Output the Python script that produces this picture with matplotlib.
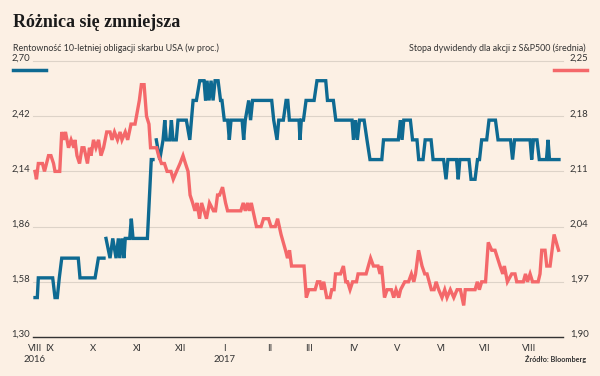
import matplotlib
matplotlib.use("Agg")
import matplotlib.pyplot as plt
from matplotlib.lines import Line2D
import numpy as np
import datetime as dt

# data: days since 2016-08-22
start = dt.date(2016, 8, 22)

yield_days = [0, 1.6, 2.3, 12.3, 13.9, 15.5, 16.9, 18.6, 30.1, 31.3, 41.8, 44.1, 48.0, 48.7,
              49.4, 52.2, 54.1, 56.4, 58.0, 59.0, 60.5, 61.9, 62.8, 65.9, 67.0, 68.2, 78.2,
              80.9, 82.1, 83.2,
              84.4, 86.8, 89.1, 90.3, 91.4, 93.7, 94.9, 96.0, 98.3, 99.5, 105.3, 107.7, 110.0,
              112.3, 114.6, 117.6, 118.7, 119.7, 121.1, 122.5, 123.9, 125.3, 127.4, 129.1,
              130.1, 131.7, 134.1, 135.2, 136.4, 144.1, 145.2, 146.3, 148.7, 150.0, 151.4,
              164.7, 166.1, 168.4, 169.6, 172.8, 174.7, 175.9, 177.0, 183.7, 184.4, 185.3,
              186.8, 188.6, 194.2, 196.2, 202.3, 203.5, 207.6, 209.3, 220.6, 221.6, 223.0,
              224.3, 225.8, 229.0, 231.0, 233.1, 241.3, 242.5, 252.8, 254.2, 255.4, 256.6,
              261.2, 262.7, 265.8, 267.0, 270.0, 271.5, 275.6, 277.0, 284.3, 286.0, 287.3,
              293.3, 294.5, 295.6, 302.0, 303.4, 306.2, 307.9, 309.3, 310.8, 314.3, 315.9,
              320.4, 322.2, 330.9, 332.3, 333.7, 344.5, 345.6, 346.8, 349.3, 350.9, 355.9,
              357.0, 358.0, 364.6]
yield_vals = [1.5, 1.5, 1.6, 1.6, 1.5, 1.5, 1.6, 1.7, 1.7, 1.6, 1.6, 1.7, 1.7, np.nan,
              1.8, 1.7, 1.8, 1.7, 1.8, 1.7, 1.8, 1.7, 1.8, 1.8, 1.9, 1.8, 1.8,
              2.2, 2.2, np.nan,
              2.3, 2.2, 2.3, 2.4, 2.3, 2.3, 2.4, 2.3, 2.3, 2.4, 2.4, 2.3, 2.5,
              2.5, 2.6, 2.6, 2.5, 2.6, 2.5, 2.6, 2.5, 2.6, 2.6, 2.5,
              2.5, 2.4, 2.4, 2.3, 2.4, 2.4, 2.3, 2.4, 2.5, 2.4, 2.5,
              2.5, 2.4, 2.3, 2.4, 2.4, 2.5, 2.5, 2.4, 2.4, 2.3, 2.4,
              2.4, 2.5, 2.5, 2.6, 2.6, 2.5, 2.5, 2.4, 2.4, 2.3, 2.4,
              2.3, 2.4, 2.4, 2.3, 2.2, 2.2, 2.3, 2.3, 2.4, 2.3, 2.4,
              2.4, 2.3, 2.3, 2.2, 2.2, 2.3, 2.3, 2.2, 2.2, 2.1, 2.2,
              2.2, 2.1, 2.2, 2.2, 2.1, 2.1, 2.2, 2.2, 2.3, 2.3, 2.4,
              2.4, 2.3, 2.3, 2.2, 2.3, 2.3, 2.2, 2.3, 2.3, 2.2, 2.2,
              2.3, 2.2, 2.2]

div_days = [0, 1.0, 2.3, 5.2, 6.6, 9.4, 11.1, 12.9, 13.9, 17.2, 18.6, 19.8, 21.2, 23.3, 25.1,
            27.1, 27.8, 29.2, 31.0, 32.7, 34.1, 36.5, 37.9, 39.0, 40.7, 42.4, 44.2, 45.9,
            47.7, 49.9, 52.2, 53.6, 55.3, 57.4, 59.2, 60.5, 62.8, 64.5, 66.8, 69.6, 72.6,
            74.0, 75.9, 77.6, 79.3, 80.4, 84.6, 86.0, 88.0, 90.1, 91.9, 94.6, 96.2, 98.5,
            100.9, 103.0, 104.7, 106.5, 107.9, 109.7, 111.3, 112.7, 114.5, 115.9, 117.6,
            119.3, 121.4, 124.2, 125.6, 127.0, 128.4, 130.5, 132.6, 134.0, 143.2, 144.9,
            146.3, 147.9, 149.1, 150.5, 151.7, 154.1, 157.3, 159.0, 162.5, 164.2, 167.2,
            168.8, 171.2, 174.3, 175.7, 177.1, 178.5, 180.6, 187.2, 188.8, 190.5, 194.9,
            196.5, 198.3, 199.4, 200.9, 203.0, 205.3, 206.5, 208.1, 209.1, 212.6, 214.6,
            216.2, 217.5, 219.2, 221.0, 223.7, 224.8, 230.4, 233.5, 235.5, 238.7, 240.1,
            241.1, 243.2, 245.0, 248.0, 249.6, 251.2, 253.1, 254.4, 257.3, 259.9, 261.9,
            263.6, 264.8, 266.9, 269.3, 271.2, 272.8, 275.8, 277.7, 279.1, 280.9, 283.2,
            285.1, 286.7, 289.0, 291.4, 293.7, 296.0, 298.3, 299.4, 306.2, 307.8, 309.2,
            310.8, 313.5, 315.4, 317.8, 320.1, 323.6, 325.5, 326.6, 328.7, 331.7, 334.0,
            335.2, 339.8, 341.3, 342.7, 344.5, 346.2, 350.1, 351.4, 352.6, 354.9, 356.1,
            358.4, 361.2, 364.3]
div_vals = [2.11, 2.10, 2.12, 2.12, 2.11, 2.13, 2.13, 2.12, 2.11, 2.11, 2.16, 2.15, 2.16, 2.14, 2.15,
            2.14, 2.15, 2.13, 2.12, 2.14, 2.14, 2.12, 2.14, 2.13, 2.15, 2.14, 2.15, 2.13,
            2.14, 2.16, 2.16, 2.15, 2.16, 2.15, 2.16, 2.15, 2.16, 2.15, 2.17, 2.17, 2.20,
            2.22, 2.22, 2.18, 2.17, 2.14, 2.14, 2.13, 2.12, 2.12, 2.11, 2.11, 2.10, 2.11,
            2.12, 2.13, 2.12, 2.11, 2.08, 2.07, 2.06, 2.07, 2.05, 2.07, 2.06,
            2.05, 2.07, 2.06, 2.06, 2.08, 2.08, 2.09, 2.07, 2.06, 2.06, 2.07,
            2.06, 2.07, 2.06, 2.07, 2.06, 2.04, 2.04, 2.05, 2.05, 2.04, 2.04,
            2.05, 2.03, 2.01, 2.00, 2.01, 1.99, 1.99, 1.99, 1.95, 1.96, 1.96,
            1.97, 1.97, 1.96, 1.97, 1.95, 1.95, 1.96, 1.96, 1.98, 1.98, 1.99,
            1.97, 1.97, 1.96, 1.97, 1.97, 1.98, 1.98, 2.00, 1.99, 1.99, 1.98,
            1.99, 1.95, 1.96, 1.96, 1.95, 1.96, 1.95, 1.96, 1.97, 1.97, 1.98,
            1.97, 1.98, 2.01, 1.99, 1.98, 1.98, 1.96, 1.96, 1.97, 1.96, 1.95,
            1.96, 1.95, 1.96, 1.95, 1.96, 1.96, 1.94, 1.96, 1.96, 1.97, 1.96,
            1.97, 1.97, 2.02, 2.01, 2.01, 1.99, 1.98, 1.99, 1.97, 1.98, 1.98,
            1.97, 1.97, 1.98, 1.97, 1.98, 1.97, 1.97, 1.98, 2.01, 2.01, 1.99,
            1.99, 2.03, 2.01]

left_ticks = [1.30, 1.58, 1.86, 2.14, 2.42, 2.70]
right_ticks = [1.90, 1.97, 2.04, 2.11, 2.18, 2.25]
month_dates = [dt.date(2016, 8, 22), dt.date(2016, 9, 1), dt.date(2016, 10, 1), dt.date(2016, 11, 1),
               dt.date(2016, 12, 1), dt.date(2017, 1, 1), dt.date(2017, 2, 1), dt.date(2017, 3, 1),
               dt.date(2017, 4, 1), dt.date(2017, 5, 1), dt.date(2017, 6, 1), dt.date(2017, 7, 1),
               dt.date(2017, 8, 1)]
month_labels = ["VIII\n2016", "IX", "X", "XI", "XII", "I\n2017", "II", "III", "IV", "V", "VI", "VII", "VIII"]

bg = "#fcf0e4"
blue = "#0e6a92"
red = "#f4686a"
txt = "#333333"

plt.rcParams["font.family"] = ["Lato", "DejaVu Sans"]

W, H = 600, 376
fig = plt.figure(figsize=(6, 3.76), dpi=100, facecolor=bg)


def fx(x):
    return x / W


def fy(y):
    return 1 - y / H


ax = fig.add_axes([fx(33), fy(337), fx(563) - fx(33), fy(61) - fy(337)])
ax.set_facecolor(bg)
ax2 = ax.twinx()

ax.plot(yield_days, yield_vals, color=blue, lw=2.4, solid_joinstyle="miter", zorder=3)
ax2.plot(div_days, div_vals, color=red, lw=2.4, solid_joinstyle="miter", zorder=3)

ax.set_xlim(-1.4, 367.4)
ax.set_ylim(1.30, 2.70)
ax2.set_ylim(1.90, 2.25)

ax.set_yticks(left_ticks)
ax.set_yticklabels([f"{v:.2f}".replace(".", ",") for v in left_ticks])
ax2.set_yticks(right_ticks)
ax2.set_yticklabels([f"{v:.2f}".replace(".", ",") for v in right_ticks])

ticks = [(d - start).days for d in month_dates]
ax.set_xticks(ticks)
ax.set_xticklabels(month_labels, fontsize=6.5, color=txt, linespacing=1.3)
for lab in ax.get_xticklabels():
    lab.set_verticalalignment("top")

for a in (ax, ax2):
    for s in a.spines.values():
        s.set_visible(False)
    a.tick_params(length=0, labelsize=6.8, colors=txt)
ax.tick_params(axis="y", pad=2)
ax2.tick_params(axis="y", pad=5)
ax.tick_params(axis="x", pad=5)
for lab in ax.get_yticklabels() + ax2.get_yticklabels():
    lab.set_verticalalignment("baseline")

ax.grid(axis="y", color="#ddd3c8", lw=0.8)
ax.grid(axis="x", visible=False)
for gl in ax.get_ygridlines():
    gl.set_clip_on(False)
ax.axhline(1.30, color="#333333", lw=1.0, zorder=2, clip_on=False)

# titles and labels
fig.text(fx(13), fy(27), "Różnica się zmniejsza", fontsize=13, fontweight="bold",
         family="Liberation Serif", color="#1a1a1a", va="baseline")
fig.text(fx(13), fy(51), "Rentowność 10-letniej obligacji skarbu USA (w proc.)",
         fontsize=6.4, color=txt, va="baseline")
fig.text(fx(586), fy(51), "Stopa dywidendy dla akcji z S&P500 (średnia)",
         fontsize=6.4, color=txt, va="baseline", ha="right")
fig.text(fx(586), fy(362), "Źródło: Bloomberg", fontsize=5.2, fontweight="bold",
         color=txt, va="baseline", ha="right")

fig.add_artist(Line2D([fx(13), fx(46)], [fy(70), fy(70)], color=blue, lw=2.5))
fig.add_artist(Line2D([fx(554), fx(587)], [fy(70), fy(70)], color=red, lw=2.5))

fig.savefig("out.png", dpi=100, facecolor=bg)
